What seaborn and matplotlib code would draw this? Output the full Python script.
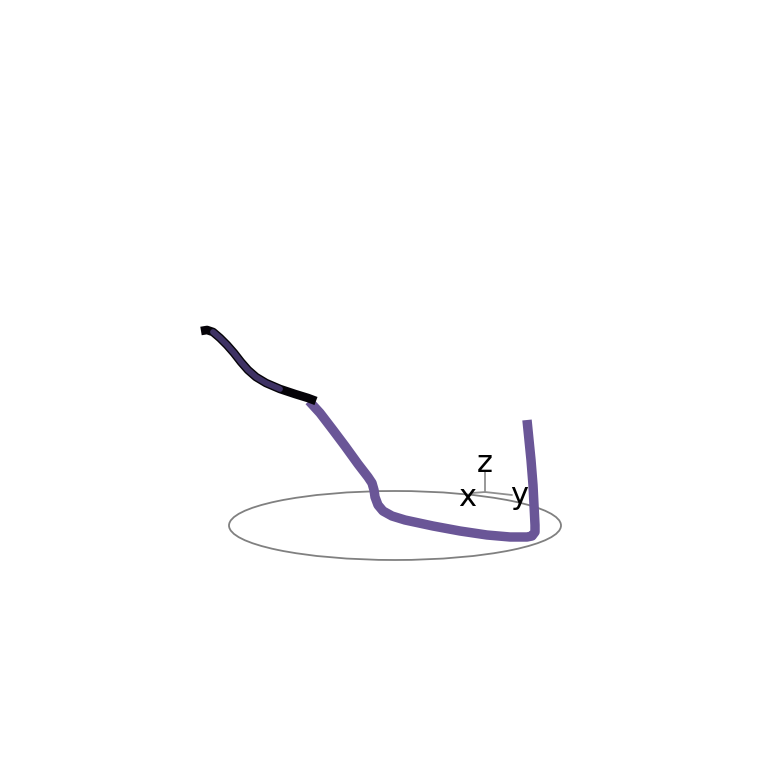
import numpy as np
import pandas as pd
import seaborn as sns
import matplotlib.pyplot as plt
from matplotlib.patches import Ellipse

tube_x = [309, 320, 333, 345, 358, 368, 372, 374, 375, 378, 383, 392, 405, 433,
          460, 487, 510, 527, 532, 535, 535, 534, 533, 531, 529, 527]
tube_y = [401, 413, 430, 446, 464, 477, 483, 490, 497, 505, 511, 516, 520, 526,
          531, 535, 537, 537, 536, 532, 525, 505, 485, 460, 440, 420]

# the flattened dark part of the tube seen edge-on
ribbon_x = [201, 207, 213, 220, 227, 234, 241, 248, 256, 266, 280, 295, 308, 316]
ribbon_y = [331, 330, 332, 338, 345, 353, 362, 370, 377, 383, 389, 394, 398, 401]

# ground circle (center, width, height)
ring_center = (395, 525.5)
ring_size = (332, 69)

# small orientation triad
triad_origin = (485, 492)
triad_ends = {"x": (472, 493), "y": (512, 495), "z": (485, 472)}
triad_labels = {"x": (467, 498), "y": (519, 495), "z": (485, 463)}

tube_color = "#6a5697"

sns.set_style("white")
fig = plt.figure(figsize=(7.69, 7.70), dpi=100)
ax = fig.add_axes([0, 0, 1, 1])

ax.add_patch(Ellipse(ring_center, ring_size[0], ring_size[1], fill=False,
                     edgecolor="#808080", lw=1.3))

for k, (ex, ey) in triad_ends.items():
    ax.plot([triad_origin[0], ex], [triad_origin[1], ey], color="#909090", lw=1.3)
    lx, ly = triad_labels[k]
    ax.text(lx, ly, k, fontsize=22, ha="center", va="center", color="black")

df_tube = pd.DataFrame({"x": tube_x, "y": tube_y})
sns.lineplot(data=df_tube, x="x", y="y", sort=False, estimator=None, ax=ax,
             color=tube_color, lw=6.8, solid_capstyle="butt", solid_joinstyle="round")

# edge-on part: black rim with a dark purple core
df_rib = pd.DataFrame({"x": ribbon_x, "y": ribbon_y})
sns.lineplot(data=df_rib, x="x", y="y", sort=False, estimator=None, ax=ax,
             color="#050308", lw=6.2, solid_capstyle="butt", solid_joinstyle="round")
sns.lineplot(data=df_rib.iloc[2:-3], x="x", y="y", sort=False, estimator=None, ax=ax,
             color="#3e3264", lw=4.2, solid_capstyle="round", solid_joinstyle="round")

ax.set_xlim(0, 769)
ax.set_ylim(770, 0)
ax.set_axis_off()

fig.savefig("out.png", dpi=100)
